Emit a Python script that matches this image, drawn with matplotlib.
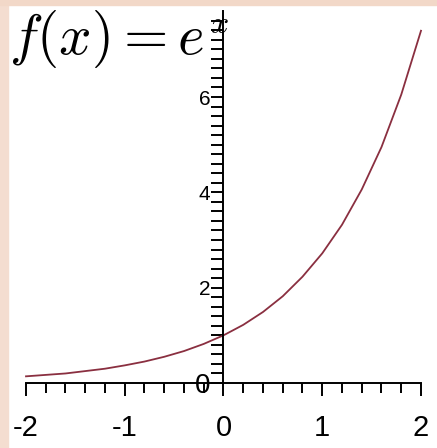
import numpy as np
import matplotlib
matplotlib.use("Agg")
import matplotlib.pyplot as plt
from matplotlib.patches import Rectangle

plt.rcParams['mathtext.fontset'] = 'cm'

# values, every 0.2 along x
xs = [-2.0, -1.8, -1.6, -1.4, -1.2, -1.0, -0.8, -0.6, -0.4, -0.2, 0.0,
      0.2, 0.4, 0.6, 0.8, 1.0, 1.2, 1.4, 1.6, 1.8, 2.0]
ys = [0.14, 0.17, 0.20, 0.25, 0.30, 0.37, 0.45, 0.55, 0.67, 0.82, 1.0,
      1.22, 1.49, 1.82, 2.23, 2.72, 3.32, 4.06, 4.95, 6.05, 7.39]

x_major = [-2, -1, 0, 1, 2]
x_labels = ['-2', '-1', '0', '1', '2']
y_major = [0, 2, 4, 6]
y_labels = ['0', '2', '4', '6']

W, H = 437, 448
fig = plt.figure(figsize=(W / 100, H / 100), dpi=100)
fig.patch.set_facecolor('white')

# pinkish border strips of the original slide background
fig.patches.append(Rectangle((0, 0), 8 / W, 1, transform=fig.transFigure,
                             color='#f4ddd0', zorder=0))
fig.patches.append(Rectangle((0, 1 - 5 / H), 1, 5 / H, transform=fig.transFigure,
                             color='#f2d8c8', zorder=0))

ax = fig.add_axes([0, 0, 1, 1])
ax.patch.set_alpha(0)

# pixel mapping: x=-2 -> 26px, x=2 -> 421px ; y=0 -> 383px, y=6 -> 97px
sx = (421 - 26) / 4.0
sy = (383 - 97) / 6.0
ax.set_xlim(-2 - 26 / sx, -2 + (W - 26) / sx)
ax.set_ylim(-(H - 383) / sy, 383 / sy)

ax.plot(xs, ys, color='#8a2f40', lw=1.3, solid_joinstyle='round')

for s in ['top', 'right']:
    ax.spines[s].set_visible(False)
ax.spines['left'].set_position(('data', 0))
ax.spines['bottom'].set_position(('data', 0))
ax.spines['left'].set_bounds(0, 7.8)
ax.spines['bottom'].set_bounds(-2, 2)
ax.spines['left'].set_linewidth(1.4)
ax.spines['bottom'].set_linewidth(1.4)

ax.set_xticks(x_major)
ax.set_xticklabels(x_labels, fontfamily='Liberation Sans', fontsize=21)
ax.set_xticks(np.arange(-2, 2.01, 0.2), minor=True)
ax.set_yticks(y_major)
ax.set_yticklabels(y_labels, fontfamily='Liberation Sans', fontsize=15)
ax.set_yticks(np.arange(0.2, 7.7, 0.2), minor=True)
# the "0" at the origin is drawn bigger in the original
ax.get_yticklabels()[0].set_fontsize(20)

ax.tick_params(axis='x', which='major', direction='out', length=9.5, width=1.4, pad=13)
ax.tick_params(axis='x', which='minor', direction='out', length=7.5, width=1.4)
ax.tick_params(axis='y', which='both', direction='out', length=8.5, width=1.4, pad=1)

fig.text(9 / W, 1 - 8 / H, r'$f(x) = e$', fontsize=41, ha='left', va='top')
fig.text(219 / W, 1 - 9 / H, r'$x$', fontsize=23, ha='center', va='top')

fig.savefig('out.png', dpi=100)
